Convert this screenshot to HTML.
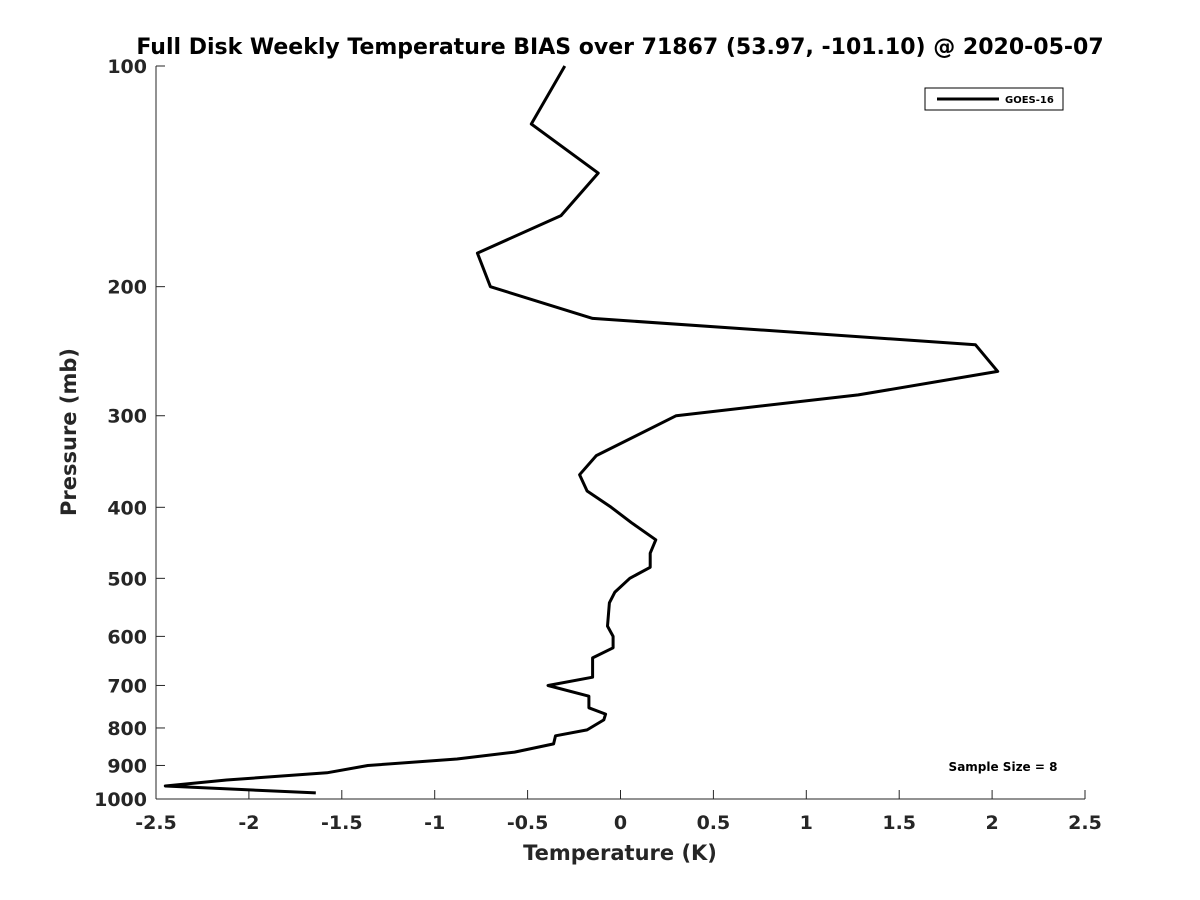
<!DOCTYPE html>
<html><head><meta charset="utf-8"><style>
body{margin:0;background:#fff}
svg{display:block;font-family:"DejaVu Sans","Liberation Sans",sans-serif;font-weight:bold}
</style></head><body>
<svg id="chart" width="1200" height="900" viewBox="0 0 1200 900">
<rect width="1200" height="900" fill="#fff"/>
<text x="620" y="54" text-anchor="middle" font-size="22" fill="#000">Full Disk Weekly Temperature BIAS over 71867 (53.97, -101.10) @ 2020-05-07</text>
<g id="axes"></g>
<path id="series" fill="none" stroke="#000" stroke-width="3" stroke-linejoin="round"/>
<g>
<rect x="925" y="88" width="138" height="22" fill="#fff" stroke="#000" stroke-width="1"/>
<line x1="937" y1="99" x2="999" y2="99" stroke="#000" stroke-width="3"/>
<text x="1005" y="103" font-size="10">GOES-16</text>
</g>
<text x="1003" y="771" text-anchor="middle" font-size="12">Sample Size = 8</text>
<text x="620" y="860" text-anchor="middle" font-size="21" fill="#262626">Temperature (K)</text>
<text transform="translate(76,432) rotate(-90)" text-anchor="middle" font-size="21" fill="#262626">Pressure (mb)</text>
</svg>
<script>
const temps=[-0.30,-0.48,-0.12,-0.32,-0.77,-0.70,-0.15,1.91,2.03,1.28,0.30,-0.13,-0.22,-0.18,-0.05,0.06,0.19,0.16,0.16,0.05,-0.03,-0.06,-0.07,-0.04,-0.04,-0.15,-0.15,-0.39,-0.17,-0.17,-0.08,-0.09,-0.18,-0.35,-0.36,-0.57,-0.88,-1.36,-1.58,-2.12,-2.45,-1.64];
const pressures=[100,120,140,160,180,200,221,240,261,281,300,340,361,380,400,420,443,462,483,500,522,540,581,600,622,642,682,700,724,751,766,780,805,820,841,863,882,900,921,942,960,981];
const xTicks=[-2.5,-2,-1.5,-1,-0.5,0,0.5,1,1.5,2,2.5];
const xTickLabels=["-2.5","-2","-1.5","-1","-0.5","0","0.5","1","1.5","2","2.5"];
const yTicks=[100,200,300,400,500,600,700,800,900,1000];
const yTickLabels=["100","200","300","400","500","600","700","800","900","1000"];
const X0=156,X1=1085,Y0=66,Y1=799;
function xs(v){return X0+(v+2.5)/5*(X1-X0);}
function ys(p){return Y0+Math.log10(p/100)*(Y1-Y0);}
const NS="http://www.w3.org/2000/svg";
const ax=document.getElementById('axes');
function mk(tag,attrs){const e=document.createElementNS(NS,tag);for(const k in attrs)e.setAttribute(k,attrs[k]);ax.appendChild(e);return e;}
let e=mk('line',{x1:X0,y1:Y0,x2:X0,y2:Y1,stroke:'#262626','stroke-width':1});


e=mk('line',{x1:X0,y1:Y1,x2:X1,y2:Y1,stroke:'#262626','stroke-width':1});


xTicks.forEach((v,i)=>{const x=xs(v);
 let t=mk('line',{x1:x,y1:Y1,x2:x,y2:Y1-9,stroke:'#262626','stroke-width':1});
 
 
 let l=mk('text',{x:x,y:829,'text-anchor':'middle','font-size':19,fill:'#262626'});
 l.textContent=xTickLabels[i];
 
 
});
yTicks.forEach((p,i)=>{const y=ys(p);
 let t=mk('line',{x1:X0,y1:y,x2:X0+9,y2:y,stroke:'#262626','stroke-width':1});
 
 
 let l=mk('text',{x:147,y:y+7,'text-anchor':'end','font-size':19,fill:'#262626'});
 l.textContent=yTickLabels[i];
 
 
});
document.getElementById('series').setAttribute('d',temps.map((t,i)=>(i?'L':'M')+xs(t).toFixed(1)+' '+ys(pressures[i]).toFixed(1)).join(' '));
</script>
</body></html>
